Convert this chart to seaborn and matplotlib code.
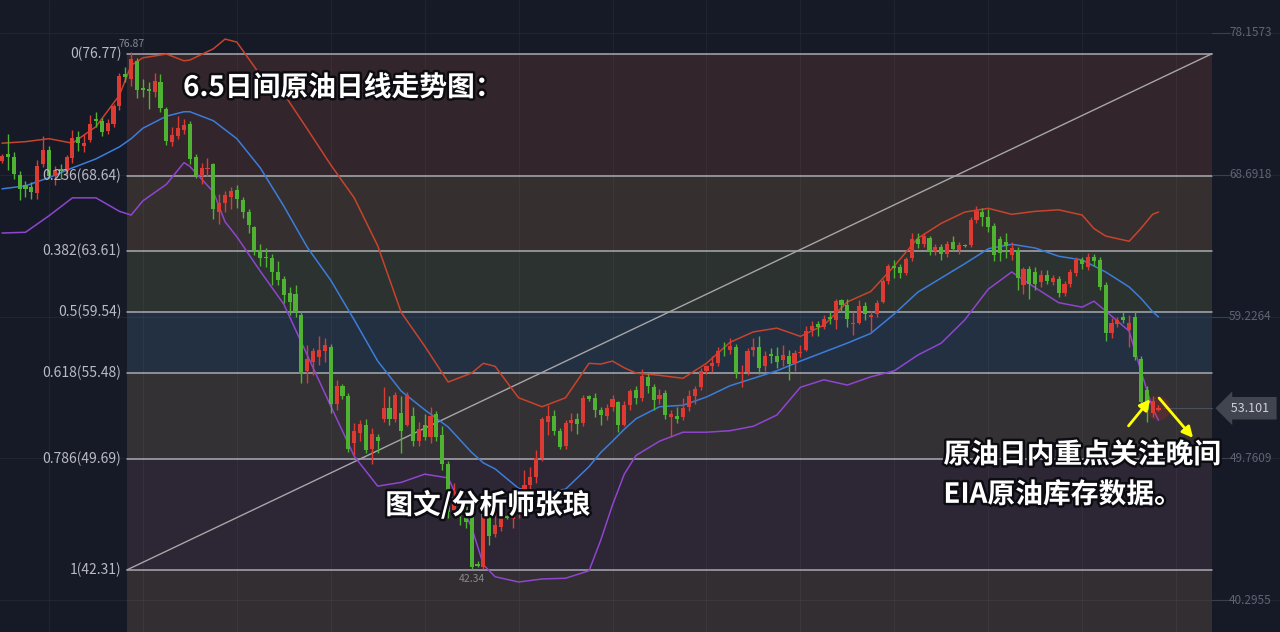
import numpy as np
import pandas as pd
import matplotlib
matplotlib.use("Agg")
import matplotlib.pyplot as plt
import matplotlib.patheffects as pe
import matplotlib.transforms as mtransforms
import seaborn as sns

# 原油日线 2018-09-03 ~ 2019-06-05 (每个工作日一根K线)
dates = pd.bdate_range("2018-09-03", "2019-06-05")

opens = [
    69.60, 70.10, 69.85, 68.70, 68.00, 67.85, 67.50, 69.40, 70.35, 68.60, 69.10, 68.95, 69.80, 71.20, 70.60, 71.00, 72.40, 72.30, 71.60, 72.10,  # 9月
    73.30, 75.40, 75.10, 76.30, 74.50, 74.40, 74.20, 74.90, 73.10, 70.90, 71.30, 71.70, 72.10, 69.90, 68.60, 69.05, 69.40, 66.20, 66.80, 67.20, 67.70, 67.00, 66.20,  # 10月
    65.20, 63.70, 63.20, 63.10, 62.20, 61.70, 60.80, 60.70, 59.30, 55.60, 56.20, 56.50, 56.90, 57.20, 53.40, 54.60, 53.90, 50.80, 51.45, 52.00, 50.40, 51.20,  # 11月
    52.40, 53.10, 52.40, 52.80, 52.00, 52.60, 50.90, 52.00, 51.20, 52.70, 51.30, 49.40, 46.30, 47.10, 46.50, 46.10, 42.70, 42.50, 46.30, 44.70, 45.20,  # 12月
    45.90, 45.70, 46.50, 47.10, 48.00, 48.50, 49.80, 52.20, 52.60, 51.60, 50.60, 52.10, 52.40, 52.10, 53.90, 53.80, 53.00, 52.60, 53.20, 53.50, 52.00, 53.30, 54.30,  # 1月
    53.80, 55.20, 54.50, 53.70, 54.10, 52.50, 52.60, 52.50, 53.20, 53.90, 54.50, 55.60, 55.90, 56.10, 57.00, 57.00, 57.20, 55.40, 55.50, 57.00,  # 2月
    57.20, 55.90, 56.70, 56.60, 56.30, 56.60, 56.10, 56.80, 57.00, 58.30, 58.70, 58.50, 59.20, 59.00, 60.30, 60.00, 58.70, 58.80, 59.90, 59.20, 59.40,  # 3月
    60.20, 61.60, 62.60, 62.50, 62.10, 63.10, 64.40, 64.10, 64.50, 63.60, 63.90, 63.40, 64.20, 63.70, 64.00, 64.00, 65.70, 66.20, 65.90, 65.30, 64.40, 64.20,  # 4月
    63.30, 63.70, 61.30, 62.40, 62.20, 61.50, 62.00, 61.50, 61.70, 60.80, 61.40, 62.10, 63.00, 62.50, 63.20, 63.00, 61.30, 58.10, 58.70, 59.20, 58.30, 59.20, 56.40,  # 5月
    54.30, 52.80, 53.00,  # 6月
]
highs = [
    70.10, 71.40, 70.20, 68.95, 68.30, 68.20, 69.70, 71.28, 70.60, 69.30, 69.40, 70.00, 71.65, 71.60, 71.40, 72.70, 72.90, 72.50, 72.40, 73.40,
    75.50, 75.90, 76.87, 76.50, 75.10, 74.90, 75.50, 75.40, 73.20, 71.90, 72.60, 72.40, 72.30, 70.10, 69.50, 69.80, 69.50, 67.40, 67.60, 67.90, 68.00, 67.20, 66.40,
    65.30, 64.10, 63.80, 63.40, 62.90, 61.90, 61.20, 61.30, 59.60, 57.30, 57.10, 57.90, 57.80, 57.40, 55.00, 54.70, 54.10, 52.10, 52.30, 52.40, 51.80, 51.40,
    54.50, 53.90, 54.20, 53.90, 54.20, 53.20, 52.20, 52.70, 53.20, 52.90, 51.90, 49.60, 48.10, 47.30, 46.90, 46.20, 42.90, 46.40, 46.80, 46.20, 46.30,
    46.00, 47.70, 47.60, 49.00, 49.20, 50.30, 52.50, 53.30, 53.00, 51.80, 52.30, 52.80, 52.80, 54.00, 54.00, 54.10, 53.20, 53.40, 54.00, 53.60, 53.60, 54.40, 54.60,
    55.70, 55.40, 54.70, 54.40, 54.30, 53.00, 53.20, 53.80, 54.30, 54.60, 55.80, 56.00, 56.60, 57.20, 57.50, 57.80, 57.40, 56.00, 57.10, 57.80,
    57.90, 56.90, 57.10, 57.20, 57.30, 57.00, 57.00, 57.30, 58.60, 58.90, 58.90, 59.30, 59.60, 60.40, 60.40, 60.40, 59.50, 60.30, 60.20, 59.60, 60.30,
    61.70, 62.70, 63.00, 62.70, 63.20, 64.80, 64.80, 64.80, 64.60, 64.10, 64.10, 64.30, 64.60, 64.20, 64.10, 65.90, 66.60, 66.50, 66.40, 65.50, 64.60, 64.80,
    64.20, 63.90, 62.50, 62.60, 62.50, 62.30, 62.30, 62.00, 61.90, 61.60, 62.40, 63.20, 63.20, 63.50, 63.40, 63.20, 61.50, 59.10, 59.20, 59.50, 59.30, 59.60, 56.60,
    54.60, 53.90, 53.30,
]
lows = [
    69.45, 69.00, 68.40, 67.00, 67.20, 67.10, 67.10, 69.20, 68.50, 68.00, 68.40, 68.60, 69.50, 70.30, 70.20, 70.90, 71.90, 71.30, 71.40, 71.90,
    73.00, 74.90, 74.60, 73.80, 73.90, 73.10, 73.90, 72.90, 70.70, 70.60, 71.10, 71.40, 69.40, 68.45, 68.10, 68.60, 65.74, 65.40, 66.20, 66.40, 66.50, 65.80, 64.80,
    63.30, 62.60, 62.50, 61.30, 61.30, 60.10, 59.30, 59.20, 54.80, 54.80, 55.30, 56.00, 56.20, 52.80, 53.00, 53.70, 50.20, 50.00, 50.90, 50.10, 49.40, 50.10,
    52.20, 52.00, 52.20, 50.10, 51.90, 50.60, 50.60, 51.00, 50.80, 50.90, 49.00, 45.80, 45.90, 45.30, 45.10, 42.34, 42.50, 42.40, 44.00, 44.50, 44.90,
    45.70, 45.10, 45.80, 46.80, 47.40, 48.10, 49.60, 51.30, 51.30, 50.40, 50.40, 51.60, 51.40, 51.90, 53.60, 52.50, 52.00, 52.30, 52.90, 51.50, 51.90, 53.00, 53.40,
    53.60, 54.10, 53.00, 53.40, 52.40, 51.20, 52.10, 52.30, 52.90, 53.40, 54.30, 55.40, 55.50, 55.90, 56.60, 56.70, 55.10, 54.50, 55.30, 56.60,
    55.40, 55.60, 56.10, 55.80, 55.90, 55.00, 55.60, 56.50, 56.90, 57.90, 57.90, 58.40, 58.70, 58.40, 59.50, 58.50, 58.00, 58.70, 59.00, 58.20, 59.20,
    60.10, 61.40, 61.80, 61.80, 62.00, 62.90, 63.80, 63.90, 63.30, 63.30, 63.00, 63.20, 63.60, 63.40, 63.90, 63.90, 65.50, 65.30, 64.90, 62.90, 62.90, 63.10,
    63.00, 61.00, 60.70, 60.40, 61.00, 61.20, 61.40, 61.30, 60.50, 60.60, 61.20, 61.90, 62.40, 62.30, 62.60, 61.00, 57.60, 57.80, 58.50, 58.80, 57.20, 56.30, 53.30,
    52.20, 52.50, 52.90,
]
closes = [
    69.95, 69.87, 68.72, 67.77, 67.75, 67.54, 69.25, 70.37, 68.59, 68.99, 68.91, 69.85, 71.12, 70.80, 70.78, 72.08, 72.28, 71.57, 72.12, 73.25,
    75.30, 75.23, 76.41, 74.33, 74.34, 74.29, 74.96, 73.17, 70.97, 71.34, 71.78, 72.02, 69.75, 68.65, 69.12, 69.17, 66.43, 66.82, 67.33, 67.59, 67.04, 66.18, 65.31,
    63.69, 63.14, 63.10, 62.21, 61.67, 60.67, 60.19, 59.50, 55.40, 56.40, 56.90, 57.00, 57.30, 53.40, 54.60, 53.90, 50.40, 51.60, 52.05, 50.30, 51.40, 50.90,
    53.10, 52.40, 54.00, 51.60, 54.00, 50.90, 51.70, 51.20, 52.60, 51.20, 49.40, 46.20, 47.20, 45.90, 45.50, 42.50, 42.60, 46.30, 44.60, 45.33, 45.90,
    45.80, 46.54, 47.09, 47.96, 48.52, 49.78, 52.36, 52.59, 51.59, 50.51, 52.11, 52.31, 52.07, 53.80, 53.70, 53.01, 52.62, 53.13, 53.69, 51.99, 53.31, 54.23, 53.79,
    55.26, 54.56, 53.66, 54.01, 52.64, 52.72, 52.41, 53.10, 53.90, 54.41, 55.59, 55.90, 56.09, 56.92, 56.96, 57.26, 55.48, 55.50, 56.94, 57.22,
    55.80, 56.59, 56.56, 56.22, 56.66, 56.07, 56.79, 56.87, 58.26, 58.61, 58.52, 59.09, 59.03, 60.23, 59.98, 59.04, 58.82, 59.94, 59.41, 59.30, 60.14,
    61.59, 62.58, 62.46, 62.10, 63.08, 64.40, 64.10, 64.61, 63.58, 63.89, 63.40, 64.05, 63.76, 64.00, 63.95, 65.70, 66.30, 65.89, 65.21, 63.30, 63.50, 63.91,
    63.80, 61.81, 62.40, 61.40, 61.40, 62.00, 61.60, 61.80, 60.80, 61.40, 62.20, 63.00, 62.70, 63.20, 62.90, 61.20, 58.10, 58.80, 59.00, 59.00, 58.80, 56.50, 53.50,
    53.00, 53.60, 53.10,
]
last_price = 53.101

# 布林带 (20日), 按K线序号取样
band_idx = [0, 4, 8, 12, 16, 20, 22, 24, 28, 31, 32, 36, 38, 40, 44, 48, 52, 56, 60, 64, 68, 72, 76, 80, 82, 84, 88, 92, 96, 100,
            102, 104, 106, 108, 112, 116, 120, 124, 128, 132, 136, 140, 144, 148, 152, 156, 160, 164, 168, 172, 176, 180, 184, 186, 188,
            192, 194, 196, 197]
boll_up = [70.8, 70.9, 71.1, 70.8, 71.9, 74.0, 76.0, 76.5, 76.75, 76.3, 76.35, 77.1, 77.75, 77.55, 75.35, 74.1, 71.75, 69.35, 67.15, 63.95,
           59.5, 57.25, 54.85, 55.45, 56.1, 55.9, 53.8, 53.2, 53.8, 56.1, 56.05, 56.25, 55.8, 55.45, 55.3, 55.1, 56.1, 57.5, 58.2, 58.45,
           57.9, 58.65, 60.2, 60.9, 62.6, 64.45, 65.45, 66.2, 66.45, 66.05, 66.25, 66.35, 66.0, 65.1, 64.6, 64.25, 65.1, 66.05, 66.2]
boll_mid = [67.75, 67.95, 68.5, 69.15, 69.75, 70.55, 71.1, 71.8, 72.6, 72.9, 72.9, 72.3, 71.7, 71.1, 69.15, 66.6, 63.85, 61.65, 59.0, 56.25,
            54.25, 53.0, 51.85, 50.15, 49.45, 49.05, 47.75, 47.45, 47.7, 49.2, 50.15, 50.9, 51.7, 52.4, 53.2, 53.3, 53.85, 54.6, 55.1, 55.6,
            56.25, 56.85, 57.45, 58.1, 59.4, 60.85, 61.8, 62.75, 63.75, 64.05, 63.8, 63.25, 63.0, 62.6, 62.2, 61.2, 60.45, 59.55, 59.2]
boll_low = [64.8, 64.85, 65.95, 67.15, 67.15, 66.25, 66.0, 66.95, 68.05, 69.5, 69.25, 67.55, 65.55, 64.55, 62.25, 60.05, 56.65, 53.25, 49.9, 47.9,
            48.15, 48.7, 48.45, 45.15, 42.65, 41.85, 41.5, 41.7, 41.75, 42.25, 44.3, 46.65, 48.7, 49.95, 50.9, 51.5, 51.5, 51.6, 51.9, 52.65,
            54.5, 55.0, 54.65, 55.2, 55.6, 56.65, 57.45, 59.0, 61.05, 62.2, 61.15, 60.15, 59.85, 60.25, 59.6, 58.25, 55.6, 53.1, 52.3]

# 斐波那契回调
fib_ratio = ["0", "0.236", "0.382", "0.5", "0.618", "0.786", "1"]
fib_price = [76.77, 68.64, 63.61, 59.54, 55.48, 49.69, 42.31]
fib_colors = ["#32252b", "#35302f", "#2c3230", "#233041", "#343134", "#2d2634", "#332e32"]
right_ticks = [78.1573, 68.6918, 59.2264, 49.7609, 40.2955]

BG = "#161a27"
RED = "#dc3b33"
GREEN = "#4fb233"

sns.set_theme(style="dark", rc={"axes.facecolor": BG, "figure.facecolor": BG})
plt.rcParams["font.family"] = ["Noto Sans CJK SC", "DejaVu Sans"]

df = pd.DataFrame({"date": dates, "open": opens, "high": highs, "low": lows, "close": closes})
df["i"] = np.arange(len(df))
col = np.where(df["close"] >= df["open"], RED, GREEN)

fig = plt.figure(figsize=(12.8, 6.32), dpi=100)
ax = fig.add_axes([0, 0, 1, 1])
ax.set_xlim(-0.34, 217.7)
ax.set_ylim(38.16, 80.36)
for s in ax.spines.values():
    s.set_visible(False)
ax.set_xticks([])
ax.set_yticks([])

fx0, fx1 = 21.3, 206.1  # 斐波那契区域左右端
edges = fib_price + [38.16]
for k in range(len(fib_price)):
    ax.fill_between([fx0, fx1], edges[k + 1], edges[k], color=fib_colors[k], lw=0, zorder=0)

# 网格
for v in right_ticks:
    ax.axhline(v, color="#ffffff", alpha=0.05, lw=0.8, zorder=0.5)
for g in range(8, 210, 16):
    ax.axvline(g, color="#ffffff", alpha=0.04, lw=0.8, zorder=0.5)

for k, (r, p) in enumerate(zip(fib_ratio, fib_price)):
    ax.plot([fx0, fx1], [p, p], color="#a9abb1", lw=1.1, zorder=1)
    ax.annotate(f"{r}({p:.2f})", (fx0, p), xytext=(-4, 0), textcoords="offset points",
                ha="right", va="center", fontsize=10, color="#b8bbc3", zorder=5)
ax.plot([fx0, fx1], [fib_price[-1], fib_price[0]], color="#a6a6a8", lw=1, zorder=1)

# 布林带
sns.lineplot(x=band_idx, y=boll_up, ax=ax, color="#c8432c", lw=1.1, zorder=2)
sns.lineplot(x=band_idx, y=boll_mid, ax=ax, color="#3b7ddb", lw=1.1, zorder=2)
sns.lineplot(x=band_idx, y=boll_low, ax=ax, color="#8f45cf", lw=1.1, zorder=2)

# K线
ax.vlines(df["i"], df["low"], df["high"], colors=col, lw=1, zorder=3)
body = (df["close"] - df["open"]).abs().clip(lower=0.06)
ax.bar(df["i"], body, bottom=df[["open", "close"]].min(axis=1), width=0.7, color=col, lw=0, zorder=4)
ax.scatter(df["i"].iloc[-1], df["close"].iloc[-1], s=300, color="#ff2020", alpha=0.15, lw=0, zorder=2.5)

hi_i = df["high"].idxmax()
lo_i = df["low"].idxmin()
ax.annotate(f"{df['high'].max():.2f}", (hi_i, df["high"].max()), xytext=(0, 2), textcoords="offset points",
            ha="center", va="bottom", fontsize=7.5, color="#868a94")
ax.annotate(f"{df['low'].min():.2f}", (lo_i, df["low"].min()), xytext=(0, -3), textcoords="offset points",
            ha="center", va="top", fontsize=7.5, color="#868a94")

# 右侧价格刻度
tr = mtransforms.blended_transform_factory(ax.transAxes, ax.transData)
for v in right_ticks:
    ax.text(0.9935, v, f"{v:.4f}", transform=tr, ha="right", va="center", fontsize=8.5, color="#5e6473")
    ax.plot([fx1, fx1 + 3], [v, v], color="#3a3f4c", lw=0.8, zorder=1)
ax.plot([df["i"].iloc[-1] + 1, fx1], [last_price, last_price], color="#4a4f5c", lw=0.8, zorder=1)
ax.text(0.9765, last_price, f" {last_price:.3f} ", transform=tr, ha="center", va="center", fontsize=9,
        color="#cdd0d6", zorder=6, bbox=dict(boxstyle="larrow,pad=0.38", fc="#41454f", ec="none"))

# 箭头
arrow_kw = dict(arrowstyle="-|>", color="#ffff00", lw=2, mutation_scale=16)
ax.annotate("", xy=(195.9, 53.85), xytext=(191.6, 51.78), arrowprops=arrow_kw, zorder=6)
ax.annotate("", xy=(203.2, 50.98), xytext=(196.8, 53.92), arrowprops=arrow_kw, zorder=6)

# 文字
fx = [pe.withStroke(linewidth=3.5, foreground="#0c0c12")]
txt_kw = dict(transform=ax.transAxes, ha="left", va="center", fontsize=20, fontweight="bold",
              color="white", path_effects=fx, zorder=7)
ax.text(0.143, 0.861, "6.5日间原油日线走势图：", **txt_kw)
ax.text(0.301, 0.201, "图文/分析师张琅", **txt_kw)
ax.text(0.737, 0.280, "原油日内重点关注晚间", **txt_kw)
ax.text(0.737, 0.217, "EIA原油库存数据。", **txt_kw)

fig.savefig("out.png", dpi=100, facecolor=BG)
